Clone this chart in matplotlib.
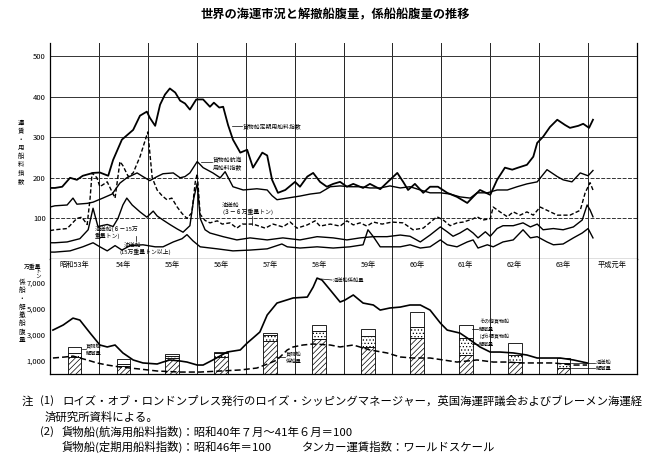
import matplotlib
matplotlib.use('Agg')
import matplotlib.pyplot as plt
from matplotlib.lines import Line2D
import numpy as np

plt.rcParams['font.family'] = ['Noto Sans CJK JP', 'DejaVu Sans']
plt.rcParams['hatch.linewidth'] = 0.5

BASE = 1978  # 昭和53年

# ---------------- data (time = years since start of 昭和53年) ----------------
charter_t = [0.00, 0.10, 0.25, 0.41, 0.55, 0.67, 0.88, 1.02, 1.19, 1.29,
             1.47, 1.70, 1.84, 1.98, 2.04, 2.15, 2.25, 2.35, 2.45, 2.56,
             2.66, 2.76, 2.86, 2.99, 3.13, 3.27, 3.35, 3.46, 3.54, 3.64,
             3.74, 3.89, 4.03, 4.15, 4.34, 4.44, 4.54, 4.66, 4.81, 5.01,
             5.11, 5.26, 5.38, 5.52, 5.66, 5.79, 5.93, 6.07, 6.20, 6.40,
             6.54, 6.75, 6.95, 7.10, 7.22, 7.32, 7.46, 7.63, 7.77, 7.93,
             8.12, 8.32, 8.53, 8.65, 8.79, 9.00, 9.14, 9.30, 9.45, 9.57,
             9.75, 9.88, 9.96, 10.08, 10.22, 10.37, 10.53, 10.63, 10.80, 10.90,
             11.02, 11.10]
charter_v = [175, 175, 178, 200, 195, 205, 212, 213, 205, 244,
             294, 318, 353, 363, 348, 328, 380, 405, 420, 410,
             390, 383, 368, 393, 393, 375, 385, 373, 375, 330,
             294, 262, 269, 225, 262, 255, 195, 163, 170, 190,
             178, 203, 212, 190, 178, 185, 190, 178, 185, 175,
             185, 172, 195, 212, 190, 170, 185, 163, 178, 178,
             163, 153, 138, 153, 170, 158, 195, 225, 220, 225,
             232, 252, 286, 301, 325, 343, 330, 323, 328, 333,
             323, 343]

voyage_t = [0.00, 0.10, 0.35, 0.47, 0.55, 0.76, 0.88, 1.08, 1.27, 1.43,
            1.57, 1.78, 1.90, 2.04, 2.19, 2.31, 2.52, 2.66, 2.76, 2.86,
            3.01, 3.13, 3.33, 3.48, 3.58, 3.74, 3.95, 4.23, 4.44, 4.54,
            4.64, 4.85, 5.11, 5.32, 5.52, 5.73, 5.93, 6.13, 6.34, 6.54,
            6.75, 6.95, 7.16, 7.36, 7.57, 7.77, 7.98, 8.18, 8.38, 8.59,
            8.73, 8.94, 9.14, 9.35, 9.55, 9.75, 9.96, 10.16, 10.37, 10.49,
            10.67, 10.84, 11.00, 11.10]
voyage_v = [128, 131, 133, 150, 135, 137, 140, 150, 160, 187,
            200, 212, 203, 193, 203, 210, 212, 200, 203, 212,
            240, 225, 212, 200, 215, 178, 170, 173, 170, 156,
            146, 150, 155, 160, 163, 178, 180, 178, 178, 175,
            175, 180, 175, 178, 170, 163, 163, 160, 153, 150,
            163, 163, 170, 170, 178, 185, 190, 220, 203, 195,
            190, 212, 205, 218]

tk_small_t = [0.00, 0.10, 0.35, 0.55, 0.65, 0.76, 0.82, 0.86, 0.96, 1.02,
              1.17, 1.23, 1.33, 1.43, 1.49, 1.60, 1.70, 1.84, 2.00, 2.09,
              2.19, 2.29, 2.39, 2.49, 2.60, 2.70, 2.80, 2.90, 2.97, 3.01,
              3.07, 3.17, 3.27, 3.42, 3.52, 3.68, 3.82, 3.93, 4.15, 4.40,
              4.56, 4.76, 4.91, 5.05, 5.26, 5.42, 5.52, 5.73, 5.93, 6.07,
              6.20, 6.34, 6.48, 6.61, 6.79, 6.99, 7.22, 7.42, 7.63, 7.91,
              8.04, 8.18, 8.32, 8.45, 8.65, 8.73, 8.85, 9.00, 9.06, 9.20,
              9.35, 9.47, 9.61, 9.75, 9.88, 10.02, 10.16, 10.37, 10.63, 10.84,
              10.94, 11.04, 11.10]
tk_small_v = [70, 72, 75, 100, 103, 85, 150, 212, 200, 178,
              190, 175, 150, 240, 230, 203, 212, 252, 313, 200,
              170, 156, 146, 150, 128, 112, 100, 114, 190, 210,
              110, 95, 89, 94, 86, 89, 76, 86, 86, 76,
              86, 79, 91, 76, 84, 94, 81, 86, 81, 94,
              84, 89, 81, 91, 86, 91, 89, 72, 76, 104,
              96, 82, 89, 91, 99, 104, 96, 99, 128, 116,
              104, 116, 108, 116, 108, 128, 120, 108, 108, 120,
              163, 188, 170]

tk_mid_t = [0.00, 0.10, 0.35, 0.61, 0.78, 0.88, 0.98, 1.17, 1.29, 1.39,
            1.49, 1.57, 1.68, 1.84, 1.98, 2.11, 2.19, 2.31, 2.45, 2.60,
            2.72, 2.86, 2.94, 3.01, 3.07, 3.17, 3.27, 3.54, 3.82, 4.09,
            4.44, 4.76, 5.11, 5.46, 5.79, 6.07, 6.34, 6.61, 6.89, 7.16,
            7.36, 7.57, 7.77, 7.98, 8.12, 8.24, 8.38, 8.53, 8.65, 8.75,
            8.90, 9.00, 9.14, 9.26, 9.47, 9.67, 9.82, 9.96, 10.08, 10.29,
            10.49, 10.70, 10.88, 10.98, 11.04, 11.10]
tk_mid_v = [40, 40, 42, 50, 72, 125, 80, 85, 80, 100,
            133, 150, 133, 116, 103, 118, 106, 96, 85, 74,
            66, 82, 150, 187, 100, 72, 64, 55, 47, 52,
            47, 52, 47, 55, 52, 47, 52, 55, 55, 59,
            56, 42, 59, 79, 67, 56, 64, 75, 64, 52,
            67, 56, 75, 82, 82, 89, 79, 86, 72, 75,
            72, 79, 96, 133, 121, 104]

tk_large_t = [0.00, 0.10, 0.41, 0.67, 0.88, 1.02, 1.17, 1.33, 1.47, 1.64,
              1.90, 2.15, 2.31, 2.52, 2.70, 2.80, 2.92, 3.07, 3.42, 3.74,
              4.09, 4.44, 4.74, 4.85, 5.11, 5.46, 5.79, 6.13, 6.40, 6.50,
              6.61, 6.75, 7.01, 7.16, 7.36, 7.57, 7.77, 7.98, 8.12, 8.32,
              8.53, 8.65, 8.75, 8.94, 9.06, 9.26, 9.47, 9.67, 9.82, 9.96,
              10.16, 10.29, 10.49, 10.70, 10.88, 11.00, 11.10]
tk_large_v = [17, 17, 20, 30, 40, 30, 20, 33, 22, 33,
              35, 30, 30, 42, 50, 60, 45, 30, 25, 20,
              22, 25, 37, 30, 27, 30, 27, 30, 35, 72,
              55, 30, 30, 30, 35, 27, 30, 47, 35, 30,
              42, 47, 27, 35, 30, 42, 47, 72, 52, 55,
              42, 35, 37, 52, 64, 75, 52]

# laid-up tonnage (万重量トン)
lay_tanker_t = [0.06, 0.27, 0.47, 0.61, 0.82, 1.02, 1.17, 1.33, 1.49, 1.70,
                1.90, 2.19, 2.31, 2.45, 2.66, 2.80, 3.01, 3.13, 3.33, 3.62,
                3.89, 4.03, 4.15, 4.29, 4.44, 4.64, 4.97, 5.26, 5.38, 5.46,
                5.56, 5.73, 5.93, 6.03, 6.20, 6.40, 6.61, 6.75, 6.95, 7.16,
                7.36, 7.57, 7.77, 7.98, 8.12, 8.38, 8.59, 8.79, 9.00, 9.20,
                9.47, 9.75, 9.96, 10.22, 10.43, 10.70, 10.98]
lay_tanker_v = [3380, 3770, 4300, 4150, 3150, 2230, 2080, 2230, 1620, 1080,
                850, 770, 920, 1080, 1000, 920, 690, 690, 1080, 1690,
                1850, 2380, 2770, 3230, 4540, 5460, 5850, 5920, 6690, 7380,
                7230, 6460, 5540, 5690, 6080, 5460, 5310, 4920, 5080, 5150,
                5310, 5310, 4920, 3920, 3380, 3150, 2620, 2080, 1690, 1690,
                1620, 1460, 1230, 1230, 1230, 1080, 850]

lay_cargo_t = [0.06, 0.31, 0.47, 0.61, 0.76, 0.96, 1.17, 1.43, 1.84, 2.19,
               2.66, 3.07, 3.48, 3.89, 4.23, 4.50, 4.64, 4.85, 4.97, 5.17,
               5.38, 5.73, 5.93, 6.20, 6.54, 6.89, 7.16, 7.42, 7.77, 8.04,
               8.32, 8.73, 9.06, 9.35, 9.61, 9.96, 10.29, 10.70, 10.98]
lay_cargo_v = [1230, 1310, 1380, 1230, 1080, 850, 690, 540, 380, 230,
               150, 150, 230, 310, 460, 850, 1080, 1850, 2080, 2230,
               2310, 2230, 2080, 2230, 1850, 1620, 1310, 1230, 1230, 1080,
               920, 1080, 920, 920, 850, 850, 850, 690, 690]

# scrapping (解撤量) per year 昭和53..63
scrap_years = [1978, 1979, 1980, 1981, 1982, 1983, 1984, 1985, 1986, 1987, 1988]
scrap_tanker = [1300, 650, 1200, 1300, 2550, 2700, 2050, 2750, 1450, 900, 500]
scrap_bulk = [300, 150, 150, 300, 450, 600, 900, 850, 1300, 550, 350]
scrap_other = [500, 350, 200, 100, 150, 450, 500, 1150, 1000, 900, 400]

year_labels = ['昭和53年', '54年', '55年', '56年', '57年', '58年', '59年',
               '60年', '61年', '62年', '63年', '平成元年']
top_ticks = [100, 200, 300, 400, 500]
bottom_ticks = [1000, 3000, 5000, 7000]
bottom_ticklabels = ['1,000', '3,000', '5,000', '7,000']

# ---------------- figure ----------------
W, H = 656, 463
fig = plt.figure(figsize=(W / 100, H / 100), dpi=100)


def fx(px):
    return px / W


def fy(py):
    return 1 - py / H


ax1 = fig.add_axes([fx(50), fy(259), 587 / W, 216 / H])
ax2 = fig.add_axes([fx(50), fy(374), 587 / W, 115 / H])

for ax in (ax1, ax2):
    ax.set_xlim(1978, 1990)
    ax.set_xticks([])
    for s in ax.spines.values():
        s.set_linewidth(0.9)
    ax.spines['top'].set_visible(False)
    for yr in range(1979, 1990):
        ax.axvline(yr, color='#222222', lw=0.7, zorder=1)

ax1.set_ylim(0, 532)
ax1.set_yticks(top_ticks)
ax1.set_yticklabels([str(t) for t in top_ticks], fontsize=5.5)
ax1.tick_params(axis='y', length=0, pad=3)
for t in top_ticks:
    ls = '-' if t >= 300 else (0, (4, 1.5))
    ax1.axhline(t, color='#333333', lw=0.7, ls=ls, zorder=1)

ax2.set_ylim(0, 8850)
ax2.set_yticks(bottom_ticks)
ax2.set_yticklabels(bottom_ticklabels, fontsize=5.5)
ax2.tick_params(axis='y', length=0, pad=3)

# top panel lines
ax1.plot(BASE + np.array(charter_t), charter_v, color='black', lw=1.3, zorder=3)
ax1.plot(BASE + np.array(voyage_t), voyage_v, color='black', lw=1.0, zorder=3)
ax1.plot(BASE + np.array(tk_small_t), tk_small_v, color='black', lw=1.0,
         ls=(0, (3, 1.6)), zorder=3)
ax1.plot(BASE + np.array(tk_mid_t), tk_mid_v, color='black', lw=1.0, zorder=3)
ax1.plot(BASE + np.array(tk_large_t), tk_large_v, color='black', lw=1.0, zorder=3)

# bottom panel bars
bx = np.array(scrap_years) + 0.5
t_ = np.array(scrap_tanker)
b_ = np.array(scrap_bulk)
o_ = np.array(scrap_other)
ax2.bar(bx, t_, width=0.28, color='white', edgecolor='black', lw=0.6,
        hatch='//////', zorder=2)
ax2.bar(bx, b_, bottom=t_, width=0.28, color='white', edgecolor='black',
        lw=0.6, hatch='.....', zorder=2)
ax2.bar(bx, o_, bottom=t_ + b_, width=0.28, color='white', edgecolor='black',
        lw=0.6, zorder=2)

ax2.plot(BASE + np.array(lay_tanker_t), lay_tanker_v, color='black', lw=1.2, zorder=3)
ax2.plot(BASE + np.array(lay_cargo_t), lay_cargo_v, color='black', lw=1.1,
         ls=(0, (4, 2)), zorder=3)

# year labels
for i, lab in enumerate(year_labels):
    ax2.text(1978 + i + 0.5, 0.945, lab, transform=ax2.get_xaxis_transform(),
             ha='center', va='center', fontsize=5.2)

# ---------------- texts ----------------
def ftext(px, py, s, size, **kw):
    kw.setdefault('ha', 'left')
    kw.setdefault('va', 'center')
    fig.text(fx(px), fy(py), s, fontsize=size, **kw)


def lead(x0, y0, x1, y1):
    fig.add_artist(Line2D([fx(x0), fx(x1)], [fy(y0), fy(y1)],
                          transform=fig.transFigure, color='black', lw=0.5))


ftext(335, 15, '世界の海運市況と解撤船腹量，係船船腹量の推移', 8.8,
      ha='center', fontweight='bold')

# vertical axis titles
ftext(21, 152, '\n'.join('運賃・用船料指数'), 4.6, ha='center', linespacing=1.05)
ftext(33, 266, '万重量', 4.2, ha='center')
ftext(38, 271.5, 'ト', 4.0, ha='center')
ftext(38, 276.5, 'ン', 4.0, ha='center')
ftext(22, 311, '\n'.join('係船・解撤船腹量'), 4.8, ha='center', linespacing=1.05)

# series labels (top)
ftext(243, 126, '貨物船定期用船料指数', 4.2)
lead(232, 126, 242, 126)
ftext(213, 160, '貨物船航海', 4.2)
ftext(213, 167, '用船料指数', 4.2)
lead(201, 162, 212, 162)
ftext(222, 205, '油送船', 4.2)
ftext(222, 212, '(３－６万重量トン)', 4.2)
lead(252, 216, 252, 225)
ftext(95, 229, '油送船(６－15万', 4.2)
ftext(95, 236, '重量トン)', 4.2)
ftext(124, 245, '油送船', 4.2)
ftext(120, 252, '(15万重量トン以上)', 4.2)
lead(136, 236, 136, 241)

# series labels (bottom)
ftext(86, 347, '貨物船', 3.8)
ftext(86, 353, '解撤量', 3.8)
lead(82, 349, 86, 349)
ftext(286, 355, '貨物船', 3.8)
ftext(286, 361, '係船量', 3.8)
lead(276, 357, 285, 357)
ftext(333, 280, '油送船係船量', 3.8)
lead(321, 279, 332, 280)
ftext(479, 322, 'その他貨物船', 3.6)
ftext(479, 329, '解撤量', 3.6)
lead(472, 329, 478, 329)
ftext(479, 337, 'ばら積貨物船', 3.6)
ftext(479, 344, '解撤量', 3.6)
lead(472, 344, 478, 344)
ftext(596, 362, '油送船', 3.8)
ftext(596, 368, '解撤量', 3.8)
lead(571, 363, 595, 363)
lead(571, 368, 595, 368)

# notes
ns = 8.2
ftext(22, 401, '注', ns)
ftext(40, 401, '(1)', ns)
ftext(62, 401, 'ロイズ・オブ・ロンドンプレス発行のロイズ・シッピングマネージャー，英国海運評議会およびブレーメン海運経', ns)
ftext(45, 417, '済研究所資料による。', ns)
ftext(40, 432, '(2)', ns)
ftext(62, 432, '貨物船(航海用船料指数)：昭和40年７月～41年６月＝100', ns)
ftext(62, 447, '貨物船(定期用船料指数)：昭和46年＝100', ns)
ftext(302, 447, 'タンカー運賃指数：ワールドスケール', ns)

fig.savefig('out.png', dpi=100)
